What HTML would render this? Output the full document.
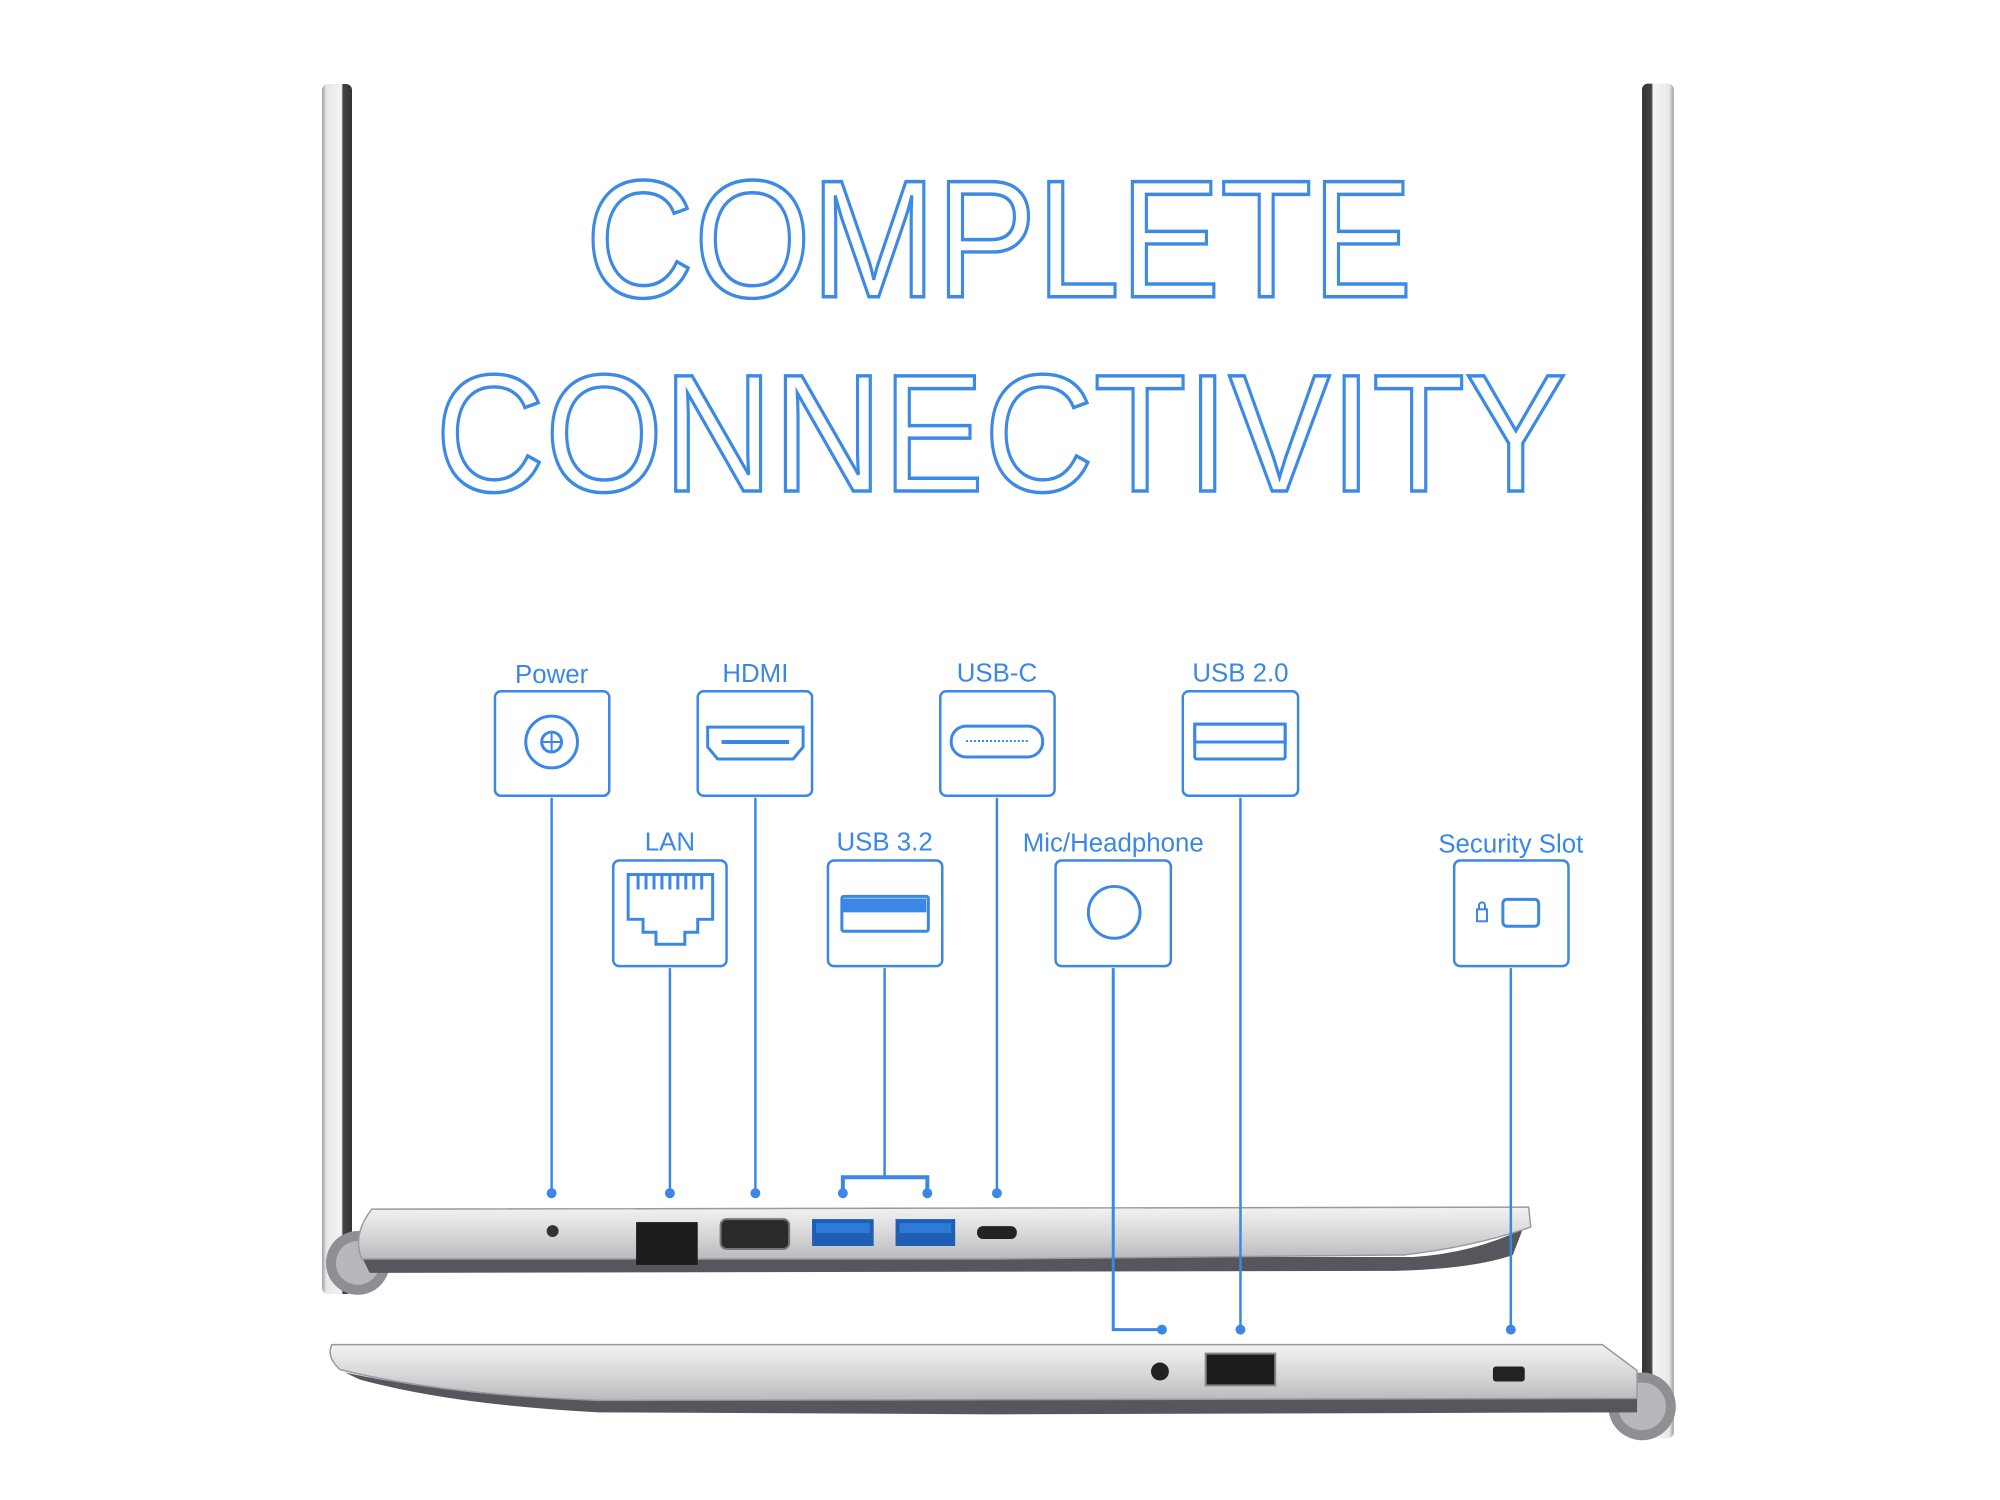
<!DOCTYPE html>
<html><head><meta charset="utf-8"><style>
html,body{margin:0;padding:0;background:#fff;}
svg{display:block;}
</style></head><body>
<svg width="2000" height="1500" viewBox="0 0 2000 1500" xmlns="http://www.w3.org/2000/svg">
<defs>
<linearGradient id="silv" x1="0" y1="0" x2="0" y2="1">
<stop offset="0" stop-color="#f2f2f2"/><stop offset="0.5" stop-color="#d9d9db"/><stop offset="1" stop-color="#b9babd"/>
</linearGradient>
<linearGradient id="barL" x1="0" y1="0" x2="1" y2="0">
<stop offset="0" stop-color="#a0a0a0"/><stop offset="0.15" stop-color="#e8e8e8"/><stop offset="0.65" stop-color="#f4f4f4"/><stop offset="0.7" stop-color="#444"/><stop offset="1" stop-color="#333"/>
</linearGradient>
<linearGradient id="barR" x1="1" y1="0" x2="0" y2="0">
<stop offset="0" stop-color="#a0a0a0"/><stop offset="0.15" stop-color="#e8e8e8"/><stop offset="0.65" stop-color="#f4f4f4"/><stop offset="0.7" stop-color="#444"/><stop offset="1" stop-color="#333"/>
</linearGradient>
</defs>

<rect x="322" y="84" width="30" height="1210" rx="6" fill="url(#barL)"/>
<g transform="translate(322,0) scale(0.994,0.996) translate(-322,0)">
<rect x="1650" y="84" width="32" height="1360" rx="6" fill="url(#barR)"/>

<!-- title -->
<g fill="none" stroke="#3d8ae6" stroke-width="3.5" font-family="Liberation Sans, sans-serif">
<text x="587" y="298" font-size="168" textLength="832" lengthAdjust="spacingAndGlyphs">COMPLETE</text>
<text x="436" y="493" font-size="168" textLength="1138" lengthAdjust="spacingAndGlyphs">CONNECTIVITY</text>
</g>

<!-- top chassis -->
<circle cx="358" cy="1268" r="32" fill="#8e8f93"/>
<circle cx="358" cy="1268" r="22" fill="#b7b8bb"/>
<path d="M362,1262 L1420,1262 Q1480,1258 1530,1234 L1520,1260 Q1480,1274 1400,1276 L370,1278 Z" fill="#55575c"/>
<path d="M372,1214 L1536,1212 L1538,1232 Q1480,1252 1410,1260 L1000,1264 L362,1264 Q352,1240 372,1214 Z" fill="url(#silv)" stroke="#9a9a9e" stroke-width="1.5"/>
<circle cx="554" cy="1236" r="6" fill="#333"/>
<rect x="638" y="1227" width="62" height="43" fill="#1c1c1c"/>
<rect x="723" y="1224" width="69" height="30" rx="6" fill="#2a2a2a" stroke="#777" stroke-width="2"/>
<rect x="815" y="1224" width="62" height="27" fill="#1f5fb3"/><rect x="819" y="1228" width="54" height="10" fill="#2f7ad8"/>
<rect x="899" y="1224" width="60" height="27" fill="#1f5fb3"/><rect x="903" y="1228" width="52" height="10" fill="#2f7ad8"/>
<rect x="981" y="1231" width="40" height="13" rx="6" fill="#222"/>

<!-- bottom chassis -->
<circle cx="1650" cy="1412" r="34" fill="#8e8f93"/>
<circle cx="1650" cy="1412" r="24" fill="#b7b8bb"/>
<path d="M345,1378 Q450,1400 560,1404 L1645,1402 L1645,1418 L1000,1420 L600,1418 Q450,1410 360,1385 Z" fill="#55575c"/>
<path d="M332,1350 L1610,1350 L1645,1376 L1645,1404 L600,1406 Q440,1400 340,1375 Q326,1362 332,1350 Z" fill="url(#silv)" stroke="#9a9a9e" stroke-width="1.5"/>
<circle cx="1165" cy="1377" r="9" fill="#222"/>
<rect x="1211" y="1359" width="70" height="32" fill="#1c1c1c" stroke="#888" stroke-width="2"/>
<rect x="1500" y="1372" width="32" height="15" rx="3" fill="#222"/>

<!-- connectors -->
<g stroke="#3a87e6" stroke-width="2.5" fill="none">
<line x1="553" y1="801" x2="553" y2="1197"/>
<line x1="758" y1="801" x2="758" y2="1197"/>
<line x1="1001" y1="801" x2="1001" y2="1197"/>
<line x1="1246" y1="801" x2="1246" y2="1335"/>
<line x1="672" y1="972" x2="672" y2="1197"/>
<polyline points="888,972 888,1182"/>
<polyline points="846,1197 846,1182 931,1182 931,1197" stroke-width="4"/>
<polyline points="1118,972 1118,1335 1167,1335" stroke-width="3"/>
<line x1="1518" y1="972" x2="1518" y2="1335"/>
</g>
<g fill="#3a87e6">
<circle cx="553" cy="1198" r="5"/><circle cx="672" cy="1198" r="5"/><circle cx="758" cy="1198" r="5"/>
<circle cx="846" cy="1198" r="5"/><circle cx="931" cy="1198" r="5"/><circle cx="1001" cy="1198" r="5"/>
<circle cx="1167" cy="1335" r="5"/><circle cx="1246" cy="1335" r="5"/><circle cx="1518" cy="1335" r="5"/>
</g>

<!-- boxes -->
<g stroke="#3a87e6" stroke-width="2.5" fill="#fff">
<rect x="496" y="694" width="115" height="105" rx="6"/>
<rect x="700" y="694" width="115" height="105" rx="6"/>
<rect x="944" y="694" width="115" height="105" rx="6"/>
<rect x="1188" y="694" width="116" height="105" rx="6"/>
<rect x="615" y="864" width="114" height="106" rx="6"/>
<rect x="831" y="864" width="115" height="106" rx="6"/>
<rect x="1060" y="864" width="116" height="106" rx="6"/>
<rect x="1461" y="864" width="115" height="106" rx="6"/>
</g>
<g stroke="#3a87e6" stroke-width="3" fill="none">
<circle cx="553" cy="745" r="26"/><circle cx="553" cy="745" r="10"/>
<line x1="553" y1="735" x2="553" y2="755" stroke-width="2"/><line x1="543" y1="745" x2="563" y2="745" stroke-width="2"/>
<path d="M710,730 L806,730 L806,750 L796,762 L720,762 L710,750 Z"/>
<line x1="724" y1="745" x2="792" y2="745" stroke-width="4"/>
<rect x="955" y="729" width="92" height="31" rx="15"/>
<line x1="970" y1="744" x2="1032" y2="744" stroke-width="2" stroke-dasharray="2 2"/>
<rect x="1200" y="727" width="91" height="35" rx="2"/><rect x="1200" y="727" width="91" height="18"/>
<path d="M630,878 L715,878 L715,923 L700,923 L700,936 L687,936 L687,948 L658,948 L658,936 L645,936 L645,923 L630,923 Z"/>
<g stroke-width="3"><line x1="640" y1="878" x2="640" y2="893"/><line x1="648" y1="878" x2="648" y2="893"/><line x1="656" y1="878" x2="656" y2="893"/><line x1="664" y1="878" x2="664" y2="893"/><line x1="672" y1="878" x2="672" y2="893"/><line x1="680" y1="878" x2="680" y2="893"/><line x1="688" y1="878" x2="688" y2="893"/><line x1="696" y1="878" x2="696" y2="893"/><line x1="704" y1="878" x2="704" y2="893"/></g>
<rect x="845" y="900" width="87" height="35" rx="2"/>
<circle cx="1119" cy="916" r="26"/>
<rect x="1510" y="903" width="36" height="27" rx="4"/>
<rect x="1484" y="913" width="10" height="12" stroke-width="2"/><path d="M1486,913 v-4 a3,3 0 0 1 6,0 v4" stroke-width="2"/>
</g>
<rect x="846" y="902" width="84" height="14" fill="#3a87e6"/>

<g fill="#3a87e6" font-family="Liberation Sans, sans-serif" font-size="26" text-anchor="middle">
<text x="553" y="686">Power</text>
<text x="758" y="685">HDMI</text>
<text x="1001" y="684">USB-C</text>
<text x="1246" y="684">USB 2.0</text>
<text x="672" y="854">LAN</text>
<text x="888" y="854">USB 3.2</text>
<text x="1118" y="855">Mic/Headphone</text>
<text x="1518" y="856">Security Slot</text>
</g>
</g>
</svg>
</body></html>
